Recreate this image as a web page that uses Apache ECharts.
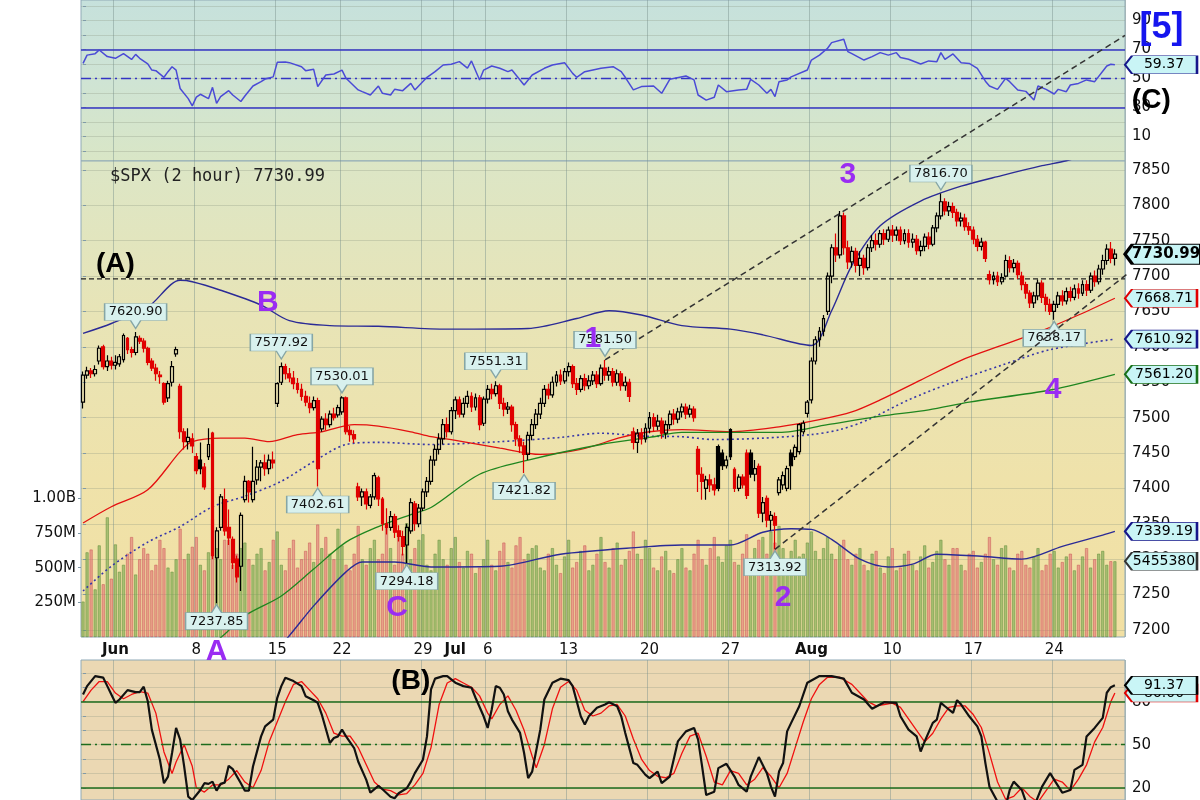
<!DOCTYPE html>
<html><head><meta charset="utf-8">
<script src="https://cdn.jsdelivr.net/npm/echarts@6/dist/echarts.min.js"></script>
<style>html,body{margin:0;padding:0;background:#fff}#c{width:1200px;height:800px}</style>
</head><body><div id="c"></div>
<script>
// ---------------- DATA ----------------
const days = ['May 28','May 29','Jun 1','Jun 2','Jun 3','Jun 4','Jun 5','Jun 8','Jun 9','Jun 10','Jun 11','Jun 12','Jun 15','Jun 16','Jun 17','Jun 18','Jun 22','Jun 23','Jun 24','Jun 25','Jun 26','Jun 29','Jun 30','Jul 1','Jul 2','Jul 6','Jul 7','Jul 8','Jul 9','Jul 10','Jul 13','Jul 14','Jul 15','Jul 16','Jul 17','Jul 20','Jul 21','Jul 22','Jul 23','Jul 24','Jul 27','Jul 28','Jul 29','Jul 30','Jul 31','Aug 3','Aug 4','Aug 5','Aug 6','Aug 7','Aug 10','Aug 11','Aug 12','Aug 13','Aug 14','Aug 17','Aug 18','Aug 19','Aug 20','Aug 21','Aug 24','Aug 25','Aug 26','Aug 27'];
const padBars = ['Aug 28|0','Aug 28|1'];
const dayLabels = {'Jun 1':'Jun','Jun 8':'8','Jun 15':'15','Jun 22':'22','Jun 29':'29','Jul 1':'Jul','Jul 6':'6','Jul 13':'13','Jul 20':'20','Jul 27':'27','Aug 3':'Aug','Aug 10':'10','Aug 17':'17','Aug 24':'24'};
const monthLabels = ['Jun','Jul','Aug'];
const priceTicks = [7200,7250,7300,7350,7400,7450,7500,7550,7600,7650,7700,7750,7800,7850];
const volumeTicks = [250,500,750,1000];
const rsiTicks = [10,30,50,70,90];
const stochTicks = [20,50,80];

// [open, close, low, high] per 2-hour bar, 4 bars per day
const ohlc = [
[7522,7560,7513,7565],[7560,7566,7555,7572],[7566,7562,7556,7570],[7562,7568,7558,7574],
[7580,7598,7575,7602],[7600,7572,7568,7603],[7572,7580,7566,7588],[7580,7574,7568,7586],
[7574,7578,7568,7588],[7576,7586,7572,7590],[7582,7616,7578,7619],[7612,7596,7590,7614],
[7596,7592,7585,7600],[7592,7614,7588,7620.90],[7612,7608,7604,7616],[7608,7598,7592,7612],
[7598,7578,7574,7600],[7580,7570,7566,7584],[7570,7562,7552,7576],[7560,7558,7548,7566],
[7548,7522,7518,7550],[7528,7548,7522,7552],[7550,7572,7544,7580],[7590,7596,7586,7600],
[7544,7480,7470,7548],[7480,7466,7455,7485],[7466,7472,7455,7485],[7470,7460,7450,7478],
[7445,7425,7420,7450],[7440,7428,7420,7465],[7430,7402,7398,7436],[7445,7462,7440,7485],
[7478,7305,7300,7480],[7302,7340,7237.85,7345],[7345,7388,7340,7392],[7384,7340,7333,7400],
[7345,7330,7320,7370],[7328,7295,7286,7332],[7300,7275,7267,7305],[7290,7362,7255,7366],
[7384,7410,7380,7418],[7410,7395,7380,7412],[7384,7410,7380,7459],[7412,7430,7405,7440],
[7430,7436,7410,7440],[7436,7428,7418,7448],[7428,7440,7420,7448],[7440,7436,7428,7452],
[7520,7548,7515,7550],[7550,7572,7546,7577.92],[7572,7562,7554,7576],[7562,7556,7550,7570],
[7556,7548,7540,7566],[7548,7540,7534,7556],[7540,7530,7524,7548],[7530,7522,7516,7538],
[7520,7514,7506,7530],[7514,7524,7510,7530],[7524,7428,7402.61,7528],[7484,7498,7480,7502],
[7498,7490,7482,7506],[7490,7505,7486,7510],[7505,7500,7496,7514],[7504,7514,7500,7518],
[7508,7528,7504,7530.01],[7528,7480,7476,7530],[7482,7476,7466,7488],[7476,7470,7464,7482],
[7402,7388,7382,7408],[7388,7395,7375,7400],[7395,7378,7370,7400],[7376,7388,7372,7392],
[7388,7418,7384,7422],[7415,7385,7375,7418],[7385,7350,7340,7388],[7350,7345,7335,7372],
[7345,7360,7340,7368],[7360,7338,7330,7364],[7340,7332,7325,7348],[7332,7318,7305,7340],
[7320,7345,7294.18,7350],[7340,7380,7336,7386],[7378,7350,7340,7382],[7350,7372,7345,7378],
[7372,7395,7368,7400],[7395,7410,7388,7416],[7410,7440,7405,7446],[7440,7455,7432,7462],
[7455,7470,7448,7478],[7470,7490,7462,7498],[7490,7480,7472,7500],[7480,7510,7476,7515],
[7510,7525,7498,7530],[7525,7505,7500,7530],[7505,7520,7500,7528],[7520,7530,7514,7538],
[7530,7515,7508,7536],[7515,7528,7510,7534],[7528,7490,7482,7532],[7492,7526,7488,7530],
[7526,7540,7520,7546],[7540,7534,7526,7548],[7534,7545,7530,7551.31],[7545,7520,7512,7548],
[7520,7512,7502,7528],[7512,7515,7505,7522],[7515,7490,7480,7518],[7490,7470,7460,7494],
[7470,7460,7450,7475],[7460,7448,7421.82,7466],[7448,7475,7440,7480],[7475,7490,7468,7498],
[7490,7505,7484,7512],[7505,7520,7498,7528],[7520,7540,7515,7546],[7540,7532,7526,7548],
[7532,7550,7528,7558],[7550,7560,7544,7566],[7560,7552,7546,7568],[7552,7565,7548,7570],
[7565,7572,7558,7578],[7572,7548,7542,7575],[7548,7540,7532,7556],[7540,7555,7536,7560],
[7555,7545,7538,7562],[7545,7552,7540,7560],[7552,7560,7546,7566],[7560,7548,7542,7566],
[7548,7570,7545,7575],[7570,7560,7552,7581.50],[7560,7565,7552,7572],[7565,7550,7544,7570],
[7550,7562,7545,7568],[7562,7545,7538,7566],[7545,7550,7538,7558],[7550,7530,7522,7555],
[7480,7465,7455,7486],[7465,7478,7450,7484],[7478,7470,7462,7485],[7470,7485,7465,7492],
[7485,7500,7478,7508],[7500,7488,7480,7506],[7488,7495,7482,7504],[7495,7478,7470,7500],
[7478,7490,7470,7496],[7490,7505,7484,7510],[7505,7498,7490,7512],[7498,7508,7492,7514],
[7508,7515,7500,7520],[7515,7505,7498,7520],[7505,7512,7500,7518],[7512,7500,7494,7516],
[7455,7420,7395,7460],[7420,7410,7384,7430],[7400,7412,7384,7418],[7412,7405,7395,7420],
[7405,7398,7390,7415],[7459,7400,7396,7462],[7450,7432,7426,7455],[7432,7440,7428,7446],
[7483,7445,7440,7485],[7427,7400,7395,7430],[7400,7416,7396,7420],[7416,7405,7400,7420],
[7450,7390,7385,7455],[7450,7420,7415,7455],[7420,7428,7410,7440],[7431,7365,7358,7435],
[7365,7380,7352,7388],[7386,7355,7345,7390],[7355,7362,7340,7368],[7360,7348,7313.92,7366],
[7394,7412,7390,7416],[7405,7418,7398,7424],[7400,7428,7396,7432],[7450,7432,7398,7455],
[7445,7458,7440,7462],[7452,7490,7448,7492],[7480,7492,7476,7496],[7506,7522,7500,7525],
[7525,7580,7520,7585],[7580,7610,7575,7615],[7610,7622,7600,7628],[7622,7640,7615,7645],
[7650,7700,7645,7705],[7700,7740,7690,7745],[7740,7730,7720,7760],[7730,7785,7725,7792],
[7785,7740,7730,7790],[7740,7720,7710,7750],[7720,7735,7712,7742],[7735,7715,7705,7740],
[7715,7725,7700,7735],[7725,7712,7702,7730],[7712,7740,7708,7745],[7740,7750,7734,7758],
[7750,7745,7736,7760],[7745,7760,7740,7765],[7760,7752,7744,7766],[7752,7765,7748,7770],
[7765,7758,7748,7772],[7758,7765,7750,7770],[7765,7750,7744,7770],[7750,7760,7745,7766],
[7760,7748,7740,7766],[7748,7752,7740,7760],[7752,7736,7730,7758],[7736,7742,7728,7750],
[7742,7755,7735,7760],[7755,7745,7738,7762],[7745,7768,7742,7772],[7768,7785,7762,7790],
[7785,7805,7780,7816.70],[7805,7792,7786,7810],[7792,7798,7785,7805],[7798,7790,7782,7804],
[7790,7778,7770,7795],[7778,7782,7770,7790],[7782,7770,7764,7788],[7770,7765,7758,7776],
[7765,7752,7745,7770],[7752,7742,7735,7758],[7742,7748,7736,7754],[7748,7725,7720,7750],
[7702,7695,7688,7708],[7695,7700,7688,7706],[7700,7692,7686,7706],[7692,7698,7688,7704],
[7700,7722,7698,7730],[7722,7712,7705,7728],[7712,7718,7705,7724],[7718,7702,7696,7722],
[7700,7688,7680,7706],[7688,7676,7668,7692],[7676,7662,7655,7680],[7662,7672,7655,7678],
[7672,7690,7666,7695],[7690,7670,7662,7694],[7670,7660,7650,7675],[7660,7650,7645,7668],
[7650,7660,7638.17,7665],[7660,7672,7655,7678],[7672,7665,7658,7680],[7665,7678,7660,7684],
[7678,7670,7664,7685],[7670,7682,7666,7688],[7682,7676,7668,7690],[7676,7688,7672,7694],
[7688,7680,7672,7694],[7680,7700,7676,7705],[7700,7692,7685,7708],[7692,7710,7688,7716],
[7710,7722,7702,7730],[7722,7738,7716,7745],[7738,7725,7718,7748],[7725,7730.99,7715,7738]
];
// volume in millions
const volume = [
255,610,630,343, 660,380,862,420, 667,470,520,600, 720,450,560,640,
600,480,520,700, 640,500,470,560, 780,560,600,650, 720,520,480,610,
850,640,560,700, 700,520,600,640, 680,560,520,600, 640,480,540,700,
760,520,480,640, 700,500,560,620, 680,540,810,640, 720,600,560,780,
660,520,480,600, 800,560,520,640, 700,560,600,820, 640,520,760,600,
820,560,640,700, 740,520,480,600, 700,560,520,640, 720,540,500,620,
600,460,500,560, 700,520,480,620, 680,540,500,660, 720,560,600,640,
660,500,480,600, 640,520,460,580, 700,500,540,620, 660,480,520,600,
720,540,500,640, 680,520,560,620, 760,600,560,700, 640,500,480,580,
620,480,460,560, 640,500,480,600, 700,560,520,640, 720,580,540,660,
700,540,520,600, 740,560,640,700, 720,600,760,680, 800,640,560,620,
700,580,600,680, 760,620,560,640, 720,600,560,660, 700,560,520,600,
640,520,480,600, 620,500,460,580, 640,480,500,600, 620,520,480,580,
660,500,540,620, 700,560,520,640, 640,520,480,600, 620,500,540,600,
720,560,520,640, 660,500,480,600, 620,520,500,580, 640,480,520,600,
620,500,540,580, 600,480,520,580, 640,500,560,600, 620,520,546,545.5
];
// overlays: [bar index, value]
const ma50 = [[0,7351],[7,7374],[16,7398],[24,7452],[27,7466],[34,7471],[40,7471],[46,7466],[53,7476],[59,7480],[67,7490],[73,7488],[81,7480],[86,7473],[91,7469],[103,7457],[113,7448],[123,7455],[133,7472],[140,7480],[148,7483],[160,7480],[172,7487],[182,7497],[190,7508],[197,7525],[207,7553],[217,7581],[227,7602],[237,7623],[246,7645],[255,7668.71]];
const bbMid = [[0,7255],[7,7290],[16,7324],[24,7346],[32,7374],[40,7389],[49,7410],[57,7438],[65,7462],[73,7465],[86,7462],[103,7466],[118,7472],[128,7478],[138,7474],[148,7473],[156,7469],[168,7471],[180,7476],[187,7483],[194,7497],[204,7525],[214,7548],[227,7574],[239,7596],[255,7610.92]];
const ma200 = [[28,7160],[35,7194],[40,7220],[49,7248],[57,7286],[65,7324],[73,7346],[81,7363],[86,7373],[98,7420],[110,7440],[128,7462],[140,7472],[148,7479],[160,7479],[172,7479],[184,7490],[197,7502],[209,7511],[219,7522],[239,7539],[255,7561.20]];
const bbUpper = [[0,7619],[7,7633],[16,7656],[24,7694],[27,7692],[34,7680],[44,7659],[51,7637],[61,7630],[73,7629],[90,7625],[110,7626],[122,7640],[130,7651],[138,7645],[148,7630],[160,7625],[168,7617],[180,7602],[185,7651],[190,7715],[197,7771],[207,7806],[217,7827],[227,7842],[237,7856],[243,7863],[255,7882.65]];
const bbLower = [[0,6890],[24,7000],[40,7120],[51,7192],[57,7234],[65,7282],[69,7296],[77,7296],[86,7289],[103,7290],[118,7307],[138,7317],[148,7320],[160,7320],[168,7338],[175,7343],[180,7342],[185,7328],[192,7300],[199,7289],[205,7293],[211,7307],[222,7304],[232,7300],[242,7318],[252,7334],[255,7339.19]];
const rsi = [[0,60.3],[1,66],[3,67],[4,69.5],[6,65],[8,63.8],[10,67],[12,63],[13,66.5],[14,63.8],[16,60],[17,55.7],[18,55.3],[20,50.7],[21,54.6],[22,58],[23,55.7],[24,43],[26,36],[27,31],[28,37],[29,39],[31,36],[32,43.8],[33,32.8],[34,37.4],[36,41.5],[37,38.5],[39,34],[40,37.8],[42,44.7],[44,47.7],[45,49.5],[47,51],[48,61],[50,61.3],[51,60.8],[54,58],[55,55.3],[57,56.2],[58,44.3],[60,52.3],[62,53],[64,55.7],[65,50],[68,42],[69,40.8],[71,38.5],[73,44.7],[74,39.7],[76,38.5],[77,42.4],[79,41.5],[81,46.5],[82,42],[85,50.7],[87,54.6],[89,59.2],[91,59.7],[93,61.5],[95,57],[96,62],[98,48.9],[99,55.7],[101,58.5],[103,56.9],[105,54.6],[106,55.7],[109,45.4],[111,52.3],[114,56.9],[116,59.2],[119,60.8],[121,53.4],[122,50.7],[124,54.6],[128,56.9],[131,58],[133,54.6],[134,50.7],[136,42],[138,44.3],[141,44.7],[143,39.7],[145,49.3],[149,51.6],[151,48.9],[152,38.5],[154,35],[156,37],[157,45.4],[159,40.8],[162,42],[164,42.4],[165,49.3],[167,45.4],[169,39.7],[170,42.4],[171,37.4],[172,47.7],[174,48.9],[175,51],[179,55.7],[180,62.6],[182,66],[184,70.7],[185,74.6],[188,76.9],[189,68.4],[190,67],[193,62.6],[195,65],[197,67.7],[199,66],[201,67.7],[202,64.3],[204,63.1],[207,59.9],[209,62],[211,61.5],[212,67.7],[213,63.1],[215,66.8],[217,60.8],[219,60.3],[221,56.9],[223,48],[224,44.7],[226,42.4],[228,50],[229,47.7],[231,42],[233,41],[235,35],[236,44.7],[238,42.4],[240,39.2],[241,42.4],[243,40.8],[244,45.4],[246,46.5],[248,48.9],[250,47.7],[253,58.5],[254,59.7],[255,59.37]];
const stochK = [[0,85],[1,90.8],[3,97.8],[5,96.7],[6,90.8],[7,85],[8,79.2],[9,81.5],[11,88],[13,86.6],[14,86.6],[15,90.4],[16,80.3],[17,60.5],[19,39.5],[20,23.2],[21,27.8],[22,44.2],[23,61.7],[24,53.5],[25,34.8],[26,13.8],[27,11.5],[29,18.5],[30,23.2],[31,22.7],[32,24.3],[33,18],[34,22.7],[35,23.6],[36,35.3],[37,33],[39,23.2],[40,18],[41,18],[42,34.8],[44,55.8],[45,62.8],[47,67.5],[48,82.7],[49,90.8],[50,96.7],[52,94.3],[54,90.8],[55,83.8],[57,81],[58,79.2],[59,71],[61,51.2],[62,54.7],[63,55.8],[64,60.5],[65,55.8],[67,47.7],[68,38.3],[70,25.5],[71,16.6],[73,21.3],[74,19],[76,13.8],[77,12.7],[78,16.2],[80,19.7],[81,24.3],[82,30.2],[84,39.5],[85,55.8],[86,88.5],[87,96],[89,97.8],[90,97.8],[92,93.2],[94,90.8],[96,89.7],[97,82.7],[99,69.8],[100,61.7],[101,74.5],[102,90.8],[103,89.7],[104,85],[105,73.3],[106,67.5],[108,58.2],[109,44.2],[110,26.7],[111,31.3],[113,60.5],[114,81.5],[116,93.2],[118,96],[120,95],[121,90.8],[123,69.8],[124,64],[125,69.8],[127,75.7],[129,78],[130,79.6],[132,76.8],[133,69.8],[134,58.2],[136,37.2],[137,36],[139,29],[140,26.7],[142,31.3],[143,23.2],[145,27.8],[147,52.3],[149,59.3],[151,61.7],[152,53.5],[153,34.8],[154,15],[156,17.3],[157,33.7],[159,36.7],[161,27.8],[162,22],[164,17.3],[165,27.8],[167,41.4],[169,30.2],[170,20.8],[171,13.8],[172,31.3],[173,37.2],[174,59.3],[175,65.2],[177,76.8],[179,93.2],[182,97.8],[185,97.8],[188,96],[190,86.2],[193,81.5],[195,75],[198,79.6],[201,79.2],[202,69.8],[204,60.5],[206,55.8],[207,45.3],[208,52.3],[210,65.2],[211,67.5],[212,79.2],[213,76.8],[215,72.2],[216,81],[217,78],[219,69.8],[221,62.8],[222,55.8],[223,37.2],[224,20.8],[226,10.3],[228,6.8],[229,18.5],[230,24.3],[232,18.5],[233,10.3],[235,6.8],[237,20.8],[239,30.2],[240,25.5],[242,16.6],[244,18.5],[245,32.5],[247,36],[248,55.8],[250,61.7],[252,68.7],[253,86.2],[254,90.1],[255,91.37]];
const stochD = [[0,80],[2,88],[4,94],[6,94],[8,86],[10,82],[12,85],[14,87],[16,86],[18,72],[20,45],[22,30],[23,38],[25,50],[27,35],[28,20],[30,17],[32,22],[34,22],[36,26],[38,32],[40,24],[42,20],[44,32],[46,52],[48,66],[50,80],[52,92],[54,94],[56,88],[58,82],[60,72],[62,58],[64,56],[66,56],[68,48],[70,36],[72,24],[74,19],[76,18],[78,15],[80,16],[82,22],[84,30],[86,48],[88,78],[90,93],[92,96],[94,93],[96,90],[98,84],[100,72],[101,68],[103,78],[105,84],[107,74],[109,60],[111,42],[112,34],[114,50],[116,75],[118,90],[120,94],[122,88],[124,74],[126,70],[128,72],[130,77],[132,78],[134,70],[136,54],[138,40],[140,32],[142,28],[144,27],[146,30],[148,44],[150,56],[152,58],[154,42],[156,24],[158,22],[160,32],[162,30],[164,22],[166,26],[168,34],[170,28],[172,20],[174,30],[176,48],[178,66],[180,82],[182,92],[184,97],[187,97],[190,92],[192,86],[194,80],[196,77],[198,78],[200,79],[202,76],[204,68],[206,60],[208,52],[210,58],[212,68],[214,76],[216,77],[218,77],[220,71],[222,62],[224,44],[226,24],[228,12],[230,14],[232,20],[234,14],[236,10],[238,18],[240,26],[242,24],[244,18],[246,26],[248,36],[250,52],[252,62],[254,80],[255,86]];
const highCallouts = [[13,7620.90],[49,7577.92],[64,7530.01],[102,7551.31],[129,7581.50],[212,7816.70]];
const lowCallouts = [[33,7237.85],[58,7402.61],[80,7294.18],[109,7421.82],[171,7313.92],[240,7638.17]];
const trendUpper = [[129,7581.5],[257.5,8040]];
const trendLower = [[171,7313.92],[263,7725]];
const refLevel = 7696;
const waveLabels = [['A',33,7169],['B',45.7,7663],['C',77.6,7231],['1',126,7612],['2',173,7245],['3',189,7843],['4',239.7,7539]];
const degreeLabels = [['(A)',8,7716,'#000'],['(B)',81,7128,'#000'],['(C)',264,7949,'#000'],['[5]',266.5,8050,'#1515ee']];
const priceTags = [[7730.99,'#000000'],[7668.71,'#e00000'],[7610.92,'#16168a'],[7561.20,'#187018'],[7339.19,'#16168a']];
const volumeTag = [545.538,'5455380'];
const rsiLast = 59.37;
const stochLast = [91.37, 86];
const titleText = '$SPX (2 hour) 7730.99';

// ---------------- BUILD ----------------
const cats = [];
days.forEach(d => { for (let k = 0; k < 4; k++) cats.push(d + '|' + k); });
padBars.forEach(p => cats.push(p));
const N = cats.length;
const tickSet = new Set();
cats.forEach((c, i) => { const [d, k] = c.split('|'); if (k === '0' && dayLabels[d]) tickSet.add(i); });
const tickFn = (i) => tickSet.has(i);

const candleData = ohlc.map((r, i) => {
  const prev = i > 0 ? ohlc[i - 1][1] : r[0];
  const col = r[1] >= prev ? '#000000' : '#e00000';
  const fill = r[1] > r[0] ? 'rgba(0,0,0,0)' : col;
  return { value: r, itemStyle: { color: fill, color0: fill, borderColor: col, borderColor0: col, borderWidth: 1.2 } };
});
const volData = volume.map((v, i) => {
  const up = i === 0 || ohlc[i][1] >= ohlc[i - 1][1];
  return { value: v, itemStyle: up ? { color: 'rgba(120,168,78,0.6)', borderColor: 'rgba(95,140,60,0.85)', borderWidth: 0.6 } : { color: 'rgba(226,118,118,0.6)', borderColor: 'rgba(200,85,85,0.85)', borderWidth: 0.6 } };
});

const FONT = 'DejaVu Sans';
const gridBorder = '#8fa9b6';
const vLine = { show: true, interval: tickFn, lineStyle: { color: 'rgba(120,145,140,0.45)', width: 1 } };
const hLine = { show: true, lineStyle: { color: 'rgba(140,150,130,0.3)', width: 1 } };
const grad = (stops) => ({ type: 'linear', x: 0, y: 0, x2: 0, y2: 1, colorStops: stops.map((c, i) => ({ offset: i / (stops.length - 1), color: c })) });
const RIGHT = N - 0.5;
const plain = v => String(v);

const tagPath = 'path://M0,9 L7,0 L72,0 L72,18 L7,18 Z';
function tagSeries(xi, yi, items, z) {
  return {
    type: 'scatter', xAxisIndex: xi, yAxisIndex: yi, clip: false, z: z || 20, silent: true,
    symbol: tagPath, symbolKeepAspect: false,
    data: items.map(t => ({
      value: [RIGHT, t.v],
      symbolSize: t.bold ? [76, 20] : [72, 18],
      symbolOffset: [t.bold ? 38 : 36, 0],
      itemStyle: { color: '#c9f5f6', borderColor: t.c, borderWidth: t.bold ? 2 : 1.3, opacity: 1 },
      label: { show: true, position: 'inside', offset: [3, 0], formatter: t.text, color: '#000', textBorderWidth: 0, fontFamily: FONT, fontSize: t.bold ? 15 : 14, fontWeight: t.bold ? 'bold' : 'normal' }
    }))
  };
}

const hiPath = 'path://M0,0 L62,0 L62,17 L36,17 L31,25 L26,17 L0,17 Z';
const loPath = 'path://M26,8 L31,0 L36,8 L62,8 L62,25 L0,25 L0,8 Z';
const calloutLabel = { show: true, position: 'inside', color: '#111', textBorderWidth: 0, fontFamily: FONT, fontSize: 13 };

const option = {
  animation: false,
  backgroundColor: '#ffffff',
  title: { text: titleText, left: 105, top: 163, textStyle: { fontFamily: 'DejaVu Sans Mono', fontSize: 17, fontWeight: 'normal', color: '#222' } },
  grid: [
    { left: 81, right: 75, top: 0, height: 161, show: true, borderColor: gridBorder, borderWidth: 1, backgroundColor: grad(['#c6e1dc', '#cfe4d4', '#d9e6c6']) },
    { left: 81, right: 75, top: 161, height: 476, show: true, borderColor: gridBorder, borderWidth: 1, backgroundColor: grad(['#dce6c6', '#e8e4b6', '#efe2aa', '#f2e0a3']) },
    { left: 81, right: 75, top: 660, bottom: 0, show: true, borderColor: gridBorder, borderWidth: 1, backgroundColor: '#ebd8b3' }
  ],
  xAxis: [
    { type: 'category', gridIndex: 0, data: cats, axisLine: { show: false }, axisTick: { show: false }, axisLabel: { show: false }, splitLine: vLine },
    { type: 'value', gridIndex: 0, min: -0.5, max: RIGHT, show: false },
    { type: 'category', gridIndex: 1, data: cats, axisLine: { show: false }, axisTick: { show: false }, splitLine: vLine,
      axisLabel: { show: true, interval: tickFn, margin: 6, fontFamily: FONT, fontSize: 15, color: '#111',
        formatter: (v) => { const d = v.split('|')[0]; const t = dayLabels[d]; if (!t) return ''; return monthLabels.includes(t) ? '{m|' + t + '}' : t; },
        rich: { m: { fontWeight: 'bold', fontFamily: FONT, fontSize: 15, color: '#111' } } } },
    { type: 'value', gridIndex: 1, min: -0.5, max: RIGHT, show: false },
    { type: 'category', gridIndex: 2, data: cats, axisLine: { show: false }, axisTick: { show: false }, axisLabel: { show: false }, splitLine: vLine },
    { type: 'value', gridIndex: 2, min: -0.5, max: RIGHT, show: false }
  ],
  yAxis: [
    { type: 'value', gridIndex: 0, position: 'right', min: -7, max: 104, axisLine: { show: false },
      axisTick: { show: true, length: 3, customValues: [0,10,20,30,40,50,60,70,80,90,100], lineStyle: { color: '#7f9aa8' } },
      axisLabel: { customValues: rsiTicks, formatter: plain, fontFamily: FONT, fontSize: 15, color: '#111', margin: 7 }, splitLine: hLine },
    { type: 'value', gridIndex: 1, position: 'right', min: 7190, max: 7862.6, axisLine: { show: false },
      axisTick: { show: true, length: 3, customValues: priceTicks, lineStyle: { color: '#7f9aa8' } },
      axisLabel: { customValues: priceTicks, formatter: plain, fontFamily: FONT, fontSize: 15, color: '#111', margin: 7 }, splitLine: hLine },
    { type: 'value', gridIndex: 1, position: 'left', min: 0, max: 3430, axisLine: { show: false },
      axisTick: { show: true, length: 3, customValues: volumeTicks, lineStyle: { color: '#7f9aa8' } },
      axisLabel: { customValues: volumeTicks, fontFamily: FONT, fontSize: 15, color: '#111', margin: 5, formatter: v => v >= 1000 ? (v / 1000).toFixed(2) + 'B' : v + 'M' }, splitLine: { show: false } },
    { type: 'value', gridIndex: 2, position: 'right', min: 11.5, max: 109, axisLine: { show: false },
      axisTick: { show: true, length: 3, customValues: [20,30,40,50,60,70,80,90,100], lineStyle: { color: '#7f9aa8' } },
      axisLabel: { customValues: stochTicks, formatter: plain, fontFamily: FONT, fontSize: 15, color: '#111', margin: 7 }, splitLine: hLine }
  ],
  series: [
    // RSI
    { type: 'line', xAxisIndex: 1, yAxisIndex: 0, data: rsi, symbol: 'none', z: 5, lineStyle: { color: '#4a4ad6', width: 1.5 },
      markLine: { silent: true, symbol: ['none', 'none'], label: { show: false }, data: [
        { yAxis: 70, lineStyle: { color: '#3434c4', width: 1.6, type: 'solid' } },
        { yAxis: 30, lineStyle: { color: '#3434c4', width: 1.6, type: 'solid' } },
        { yAxis: 50, lineStyle: { color: '#3434c4', width: 1.3, type: [10, 4, 2, 4] } } ] } },
    tagSeries(1, 0, [{ v: rsiLast, c: '#16168a', text: rsiLast.toFixed(2) }]),
    // volume
    { type: 'bar', xAxisIndex: 2, yAxisIndex: 2, data: volData, barWidth: 3, z: 1 },
    // reference level
    { type: 'line', xAxisIndex: 3, yAxisIndex: 1, data: [[-0.5, refLevel], [RIGHT, refLevel]], symbol: 'none', z: 4, lineStyle: { color: '#222', width: 1.3, type: [5, 3] } },
    // overlays
    { type: 'line', xAxisIndex: 3, yAxisIndex: 1, data: bbUpper, symbol: 'none', smooth: 0.3, z: 3, lineStyle: { color: '#2b2b96', width: 1.4 } },
    { type: 'line', xAxisIndex: 3, yAxisIndex: 1, data: bbLower, symbol: 'none', smooth: 0.3, z: 3, lineStyle: { color: '#2b2b96', width: 1.4 } },
    { type: 'line', xAxisIndex: 3, yAxisIndex: 1, data: bbMid, symbol: 'none', smooth: 0.3, z: 3, lineStyle: { color: '#3636a8', width: 1.6, type: [2, 3] } },
    { type: 'line', xAxisIndex: 3, yAxisIndex: 1, data: ma50, symbol: 'none', smooth: 0.3, z: 3, lineStyle: { color: '#e41010', width: 1.3 } },
    { type: 'line', xAxisIndex: 3, yAxisIndex: 1, data: ma200, symbol: 'none', smooth: 0.3, z: 3, lineStyle: { color: '#1f861f', width: 1.3 } },
    // candles
    { type: 'candlestick', xAxisIndex: 2, yAxisIndex: 1, data: candleData, barWidth: 3.4, z: 6 },
    // trend lines
    { type: 'line', xAxisIndex: 3, yAxisIndex: 1, data: trendUpper, symbol: 'none', clip: false, z: 7, lineStyle: { color: '#333', width: 1.5, type: [6, 4] } },
    { type: 'line', xAxisIndex: 3, yAxisIndex: 1, data: trendLower, symbol: 'none', clip: false, z: 22, lineStyle: { color: '#333', width: 1.5, type: [6, 4] } },
    // callouts
    { type: 'scatter', xAxisIndex: 3, yAxisIndex: 1, clip: false, z: 9, silent: true, symbol: hiPath, symbolSize: [62, 25], symbolOffset: [0, -16],
      itemStyle: { color: '#d8f1ee', borderColor: '#86a6a6', borderWidth: 1, opacity: 1 }, data: highCallouts,
      label: Object.assign({}, calloutLabel, { offset: [0, -4], formatter: p => p.value[1].toFixed(2) }) },
    { type: 'scatter', xAxisIndex: 3, yAxisIndex: 1, clip: false, z: 9, silent: true, symbol: loPath, symbolSize: [62, 25], symbolOffset: [0, 14],
      itemStyle: { color: '#d8f1ee', borderColor: '#86a6a6', borderWidth: 1, opacity: 1 }, data: lowCallouts,
      label: Object.assign({}, calloutLabel, { offset: [0, 4], formatter: p => p.value[1].toFixed(2) }) },
    // wave labels
    { type: 'scatter', xAxisIndex: 3, yAxisIndex: 1, clip: false, z: 10, silent: true, symbolSize: 1, itemStyle: { opacity: 1, color: 'rgba(0,0,0,0)' },
      data: waveLabels.map(w => ({ value: [w[1], w[2]], name: w[0] })),
      label: { show: true, position: 'inside', formatter: p => p.name, color: '#9a2cf2', textBorderWidth: 0, fontSize: 30, fontWeight: 'bold', fontFamily: 'Liberation Sans' } },
    { type: 'scatter', xAxisIndex: 3, yAxisIndex: 1, clip: false, z: 10, silent: true, symbolSize: 1, itemStyle: { opacity: 1, color: 'rgba(0,0,0,0)' },
      data: degreeLabels.map(w => ({ value: [w[1], w[2]], name: w[0], label: { color: w[3], fontSize: w[0] === '[5]' ? 36 : 28 } })),
      label: { show: true, position: 'inside', formatter: p => p.name, textBorderWidth: 0, fontWeight: 'bold', fontFamily: 'Liberation Sans' } },
    // tags
    tagSeries(3, 1, priceTags.map((t, i) => ({ v: t[0], c: t[1], text: t[0].toFixed(2), bold: i === 0 }))),
    tagSeries(3, 2, [{ v: volumeTag[0], c: '#333', text: volumeTag[1] }]),
    // stochastics
    { type: 'line', xAxisIndex: 5, yAxisIndex: 3, data: stochD, symbol: 'none', z: 4, lineStyle: { color: '#f01010', width: 1.3 } },
    { type: 'line', xAxisIndex: 5, yAxisIndex: 3, data: stochK, symbol: 'none', z: 5, lineStyle: { color: '#111', width: 2.2 },
      markLine: { silent: true, symbol: ['none', 'none'], label: { show: false }, data: [
        { yAxis: 80, lineStyle: { color: '#1d6b1d', width: 1.6, type: 'solid' } },
        { yAxis: 20, lineStyle: { color: '#1d6b1d', width: 1.6, type: 'solid' } },
        { yAxis: 50, lineStyle: { color: '#1d6b1d', width: 1.3, type: [10, 4, 2, 4] } } ] } },
    tagSeries(5, 3, [{ v: stochLast[1], c: '#e00000', text: stochLast[1].toFixed(2) }], 19),
    tagSeries(5, 3, [{ v: stochLast[0], c: '#000', text: stochLast[0].toFixed(2) }], 21)
  ]
};
const chart = echarts.init(document.getElementById('c'), null, { renderer: 'canvas' });
chart.setOption(option);
</script>
</body></html>
